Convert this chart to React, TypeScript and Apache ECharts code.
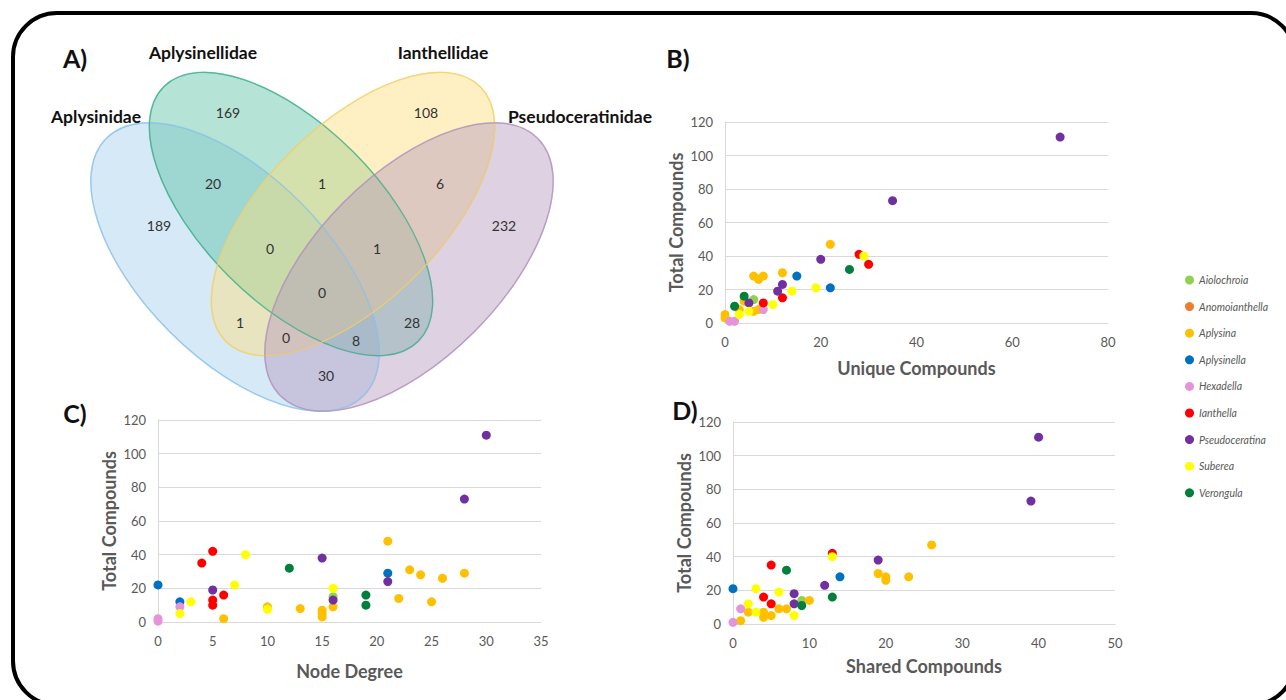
import React, { useEffect, useRef } from "react";
import * as echarts from "echarts";

const FONT = "Lato, 'Open Sans', sans-serif";

const genera = ["Aiolochroia", "Anomoianthella", "Aplysina", "Aplysinella", "Hexadella", "Ianthella", "Pseudoceratina", "Suberea", "Verongula"];
const generaColors = ["#92D050", "#ED7D31", "#FFC000", "#0070C0", "#E495D9", "#FF0000", "#7030A0", "#FFFF00", "#00803A"];

// Panel B: unique compounds vs total compounds
const aiolochroiaB = [[6, 14]];
const anomoianthellaB: number[][] = [];
const aplysinaB = [[22, 47], [12, 30], [6, 28], [7, 26], [8, 28], [4, 13], [3, 8], [6, 7], [7, 8], [0, 5], [0, 3]];
const aplysinellaB = [[15, 28], [22, 21]];
const hexadellaB = [[8, 8], [1, 1], [2, 1]];
const ianthellaB = [[28, 41], [30, 35], [12, 15], [8, 12]];
const pseudoceratinaB = [[70, 111], [35, 73], [20, 38], [12, 23], [11, 19], [5, 12]];
const subereaB = [[29, 40], [14, 19], [19, 21], [10, 11], [3, 5], [5, 7]];
const verongulaB = [[26, 32], [4, 16], [2, 10]];

// Panel C: node degree vs total compounds
const aiolochroiaC = [[16, 15]];
const anomoianthellaC: number[][] = [];
const aplysinaC = [[21, 48], [23, 31], [24, 28], [26, 26], [28, 29], [22, 14], [25, 12], [16, 9], [15, 7], [15, 5], [15, 3], [13, 8], [10, 9], [6, 2]];
const aplysinellaC = [[21, 29], [2, 12], [0, 22]];
const hexadellaC = [[2, 9], [0, 2], [0, 0.5]];
const ianthellaC = [[5, 42], [4, 35], [6, 16], [5, 13], [5, 10]];
const pseudoceratinaC = [[30, 111], [28, 73], [21, 24], [15, 38], [16, 13], [5, 19]];
const subereaC = [[8, 40], [7, 22], [16, 20], [3, 12], [10, 7.5], [2, 5]];
const verongulaC = [[12, 32], [19, 16], [19, 10]];

// Panel D: shared compounds vs total compounds
const aiolochroiaD = [[9, 14]];
const anomoianthellaD: number[][] = [];
const aplysinaD = [[26, 47], [19, 30], [20, 28], [20, 26], [23, 28], [10, 14], [2, 7], [4, 7], [4, 4], [5, 5], [6, 9], [7, 9], [1, 2]];
const aplysinellaD = [[14, 28], [0, 21]];
const hexadellaD = [[1, 9], [0, 1]];
const ianthellaD = [[13, 42], [5, 35], [4, 16], [5, 12]];
const pseudoceratinaD = [[40, 111], [39, 73], [19, 38], [12, 23], [8, 18], [8, 12]];
const subereaD = [[13, 40], [3, 21], [6, 19], [2, 12], [3, 7], [8, 5]];
const verongulaD = [[7, 32], [13, 16], [9, 11]];

const panelB = [aiolochroiaB, anomoianthellaB, aplysinaB, aplysinellaB, hexadellaB, ianthellaB, pseudoceratinaB, subereaB, verongulaB];
const panelC = [aiolochroiaC, anomoianthellaC, aplysinaC, aplysinellaC, hexadellaC, ianthellaC, pseudoceratinaC, subereaC, verongulaC];
const panelD = [aiolochroiaD, anomoianthellaD, aplysinaD, aplysinellaD, hexadellaD, ianthellaD, pseudoceratinaD, subereaD, verongulaD];

// Venn diagram
const vennSets = ["Aplysinidae", "Aplysinellidae", "Ianthellidae", "Pseudoceratinidae"];
const vennFills = ["#A2CEED", "#5BC1A4", "#FDDE7A", "#B699BC"];
const vennStrokes = ["#8EC3EA", "#3FB08F", "#F3D06A", "#B294BA"];
const vennCounts = ["169", "108", "20", "1", "6", "189", "232", "0", "1", "0", "1", "28", "0", "8", "30"];

// layout (pixel positions) for the Venn drawing
const ellipseLayout = [
  { cx: 235, cy: 267, rx: 182, ry: 92, rot: -Math.PI / 4 },
  { cx: 291, cy: 214, rx: 180, ry: 88, rot: -Math.PI / 4 },
  { cx: 353, cy: 214, rx: 180, ry: 88, rot: Math.PI / 4 },
  { cx: 409, cy: 267, rx: 182, ry: 92, rot: Math.PI / 4 },
];
const setLabelPos = [[96, 116], [203, 52], [443, 52], [580, 116]];
const countPos = [[228, 112], [426, 112], [213, 183], [322, 183], [440, 183], [159, 225], [504, 225], [270, 248], [377, 248], [322, 292], [240, 322], [412, 322], [286, 337], [356, 340], [326, 375]];

const AXIS_GRAY = "#D9D9D9";
const LABEL_GRAY = "#595959";

function makeY(gridIndex: number) {
  return {
    type: "value",
    gridIndex,
    min: 0,
    max: 120,
    interval: 20,
    name: "Total Compounds",
    nameLocation: "middle",
    nameGap: 40,
    nameTextStyle: { fontFamily: FONT, fontWeight: "bold", fontSize: 18, color: LABEL_GRAY },
    axisLine: { show: true, lineStyle: { color: AXIS_GRAY, width: 1 } },
    axisTick: { show: false },
    axisLabel: { color: LABEL_GRAY, fontSize: 13, fontFamily: FONT, margin: 12 },
    splitLine: { show: true, lineStyle: { color: AXIS_GRAY, width: 1 } },
  };
}

function makeX(gridIndex: number, max: number, interval: number, name: string, nameGap: number) {
  return {
    type: "value",
    gridIndex,
    min: 0,
    max,
    interval,
    name,
    nameLocation: "middle",
    nameGap,
    nameTextStyle: { fontFamily: FONT, fontWeight: "bold", fontSize: 18, color: LABEL_GRAY },
    axisLine: { show: true, onZero: false, lineStyle: { color: AXIS_GRAY, width: 1 } },
    axisTick: { show: false },
    axisLabel: { color: LABEL_GRAY, fontSize: 13, fontFamily: FONT, margin: 12 },
    splitLine: { show: false },
  };
}

export default function App() {
  const ref = useRef<HTMLDivElement>(null);
  useEffect(() => {
    if (!ref.current) return;
    const chart = echarts.init(ref.current, null, { renderer: "svg" });

    const series: any[] = [];
    [panelB, panelC, panelD].forEach((panel, pi) => {
      panel.forEach((data, gi) => {
        series.push({
          type: "scatter",
          name: genera[gi],
          xAxisIndex: pi,
          yAxisIndex: pi,
          data,
          symbol: "circle",
          symbolSize: 9,
          itemStyle: { color: generaColors[gi], opacity: 1 },
          emphasis: { disabled: true },
        });
      });
    });

    const graphics: any[] = [];
    graphics.push({
      type: "rect",
      shape: { x: 13, y: 13, width: 1282, height: 692, r: 44 },
      style: { fill: "none", stroke: "#000", lineWidth: 4 },
      z: 10,
    });
    ellipseLayout.forEach((e, i) => {
      graphics.push({
        type: "ellipse",
        x: e.cx,
        y: e.cy,
        rotation: e.rot,
        shape: { cx: 0, cy: 0, rx: e.rx, ry: e.ry },
        style: { fill: vennFills[i], opacity: 0.45, stroke: vennStrokes[i], lineWidth: 1.5 },
        z: 1,
      });
    });
    ellipseLayout.forEach((e, i) => {
      graphics.push({
        type: "ellipse",
        x: e.cx,
        y: e.cy,
        rotation: e.rot,
        shape: { cx: 0, cy: 0, rx: e.rx, ry: e.ry },
        style: { fill: "none", stroke: vennStrokes[i], lineWidth: 1.2, opacity: 0.8 },
        z: 2,
      });
    });
    vennSets.forEach((s, i) => {
      graphics.push({
        type: "text",
        x: setLabelPos[i][0],
        y: setLabelPos[i][1],
        style: { text: s, fill: "#111", font: `bold 17.5px ${FONT}`, align: "center", verticalAlign: "middle" },
        z: 3,
      });
    });
    vennCounts.forEach((c, i) => {
      graphics.push({
        type: "text",
        x: countPos[i][0],
        y: countPos[i][1],
        style: { text: c, fill: "#333", font: `14px ${FONT}`, align: "center", verticalAlign: "middle" },
        z: 3,
      });
    });
    const panelLabels = [["A)", 75, 58], ["B)", 678, 58], ["C)", 75, 413], ["D)", 685, 410]];
    panelLabels.forEach(([t, x, y]) => {
      graphics.push({
        type: "text",
        x,
        y,
        style: { text: t, fill: "#111", font: `bold 25px ${FONT}`, align: "center", verticalAlign: "middle" },
        z: 3,
      });
    });

    const option: any = {
      animation: false,
      backgroundColor: "#fff",
      textStyle: { fontFamily: FONT },
      grid: [
        { left: 725, top: 122, width: 383, height: 201 },
        { left: 158, top: 420, width: 383, height: 202 },
        { left: 733, top: 422, width: 382, height: 202 },
      ],
      xAxis: [
        makeX(0, 80, 20, "Unique Compounds", 36),
        makeX(1, 35, 5, "Node Degree", 40),
        makeX(2, 50, 10, "Shared Compounds", 33),
      ],
      yAxis: [makeY(0), makeY(1), makeY(2)],
      legend: {
        orient: "vertical",
        left: 1180,
        top: 268,
        data: genera.map((g) => ({ name: g, icon: "circle" })),
        itemWidth: 9,
        itemHeight: 9,
        itemGap: 12.6,
        selectedMode: false,
        textStyle: { fontFamily: FONT, fontStyle: "italic", fontSize: 10.5, color: LABEL_GRAY, lineHeight: 14 },
      },
      graphic: { elements: graphics },
      series,
    };
    chart.setOption(option);
    return () => chart.dispose();
  }, []);
  return (
    <div
      ref={ref}
      style={{ position: "fixed", left: 0, top: 0, width: 1286, height: 700, background: "#fff" }}
    />
  );
}
